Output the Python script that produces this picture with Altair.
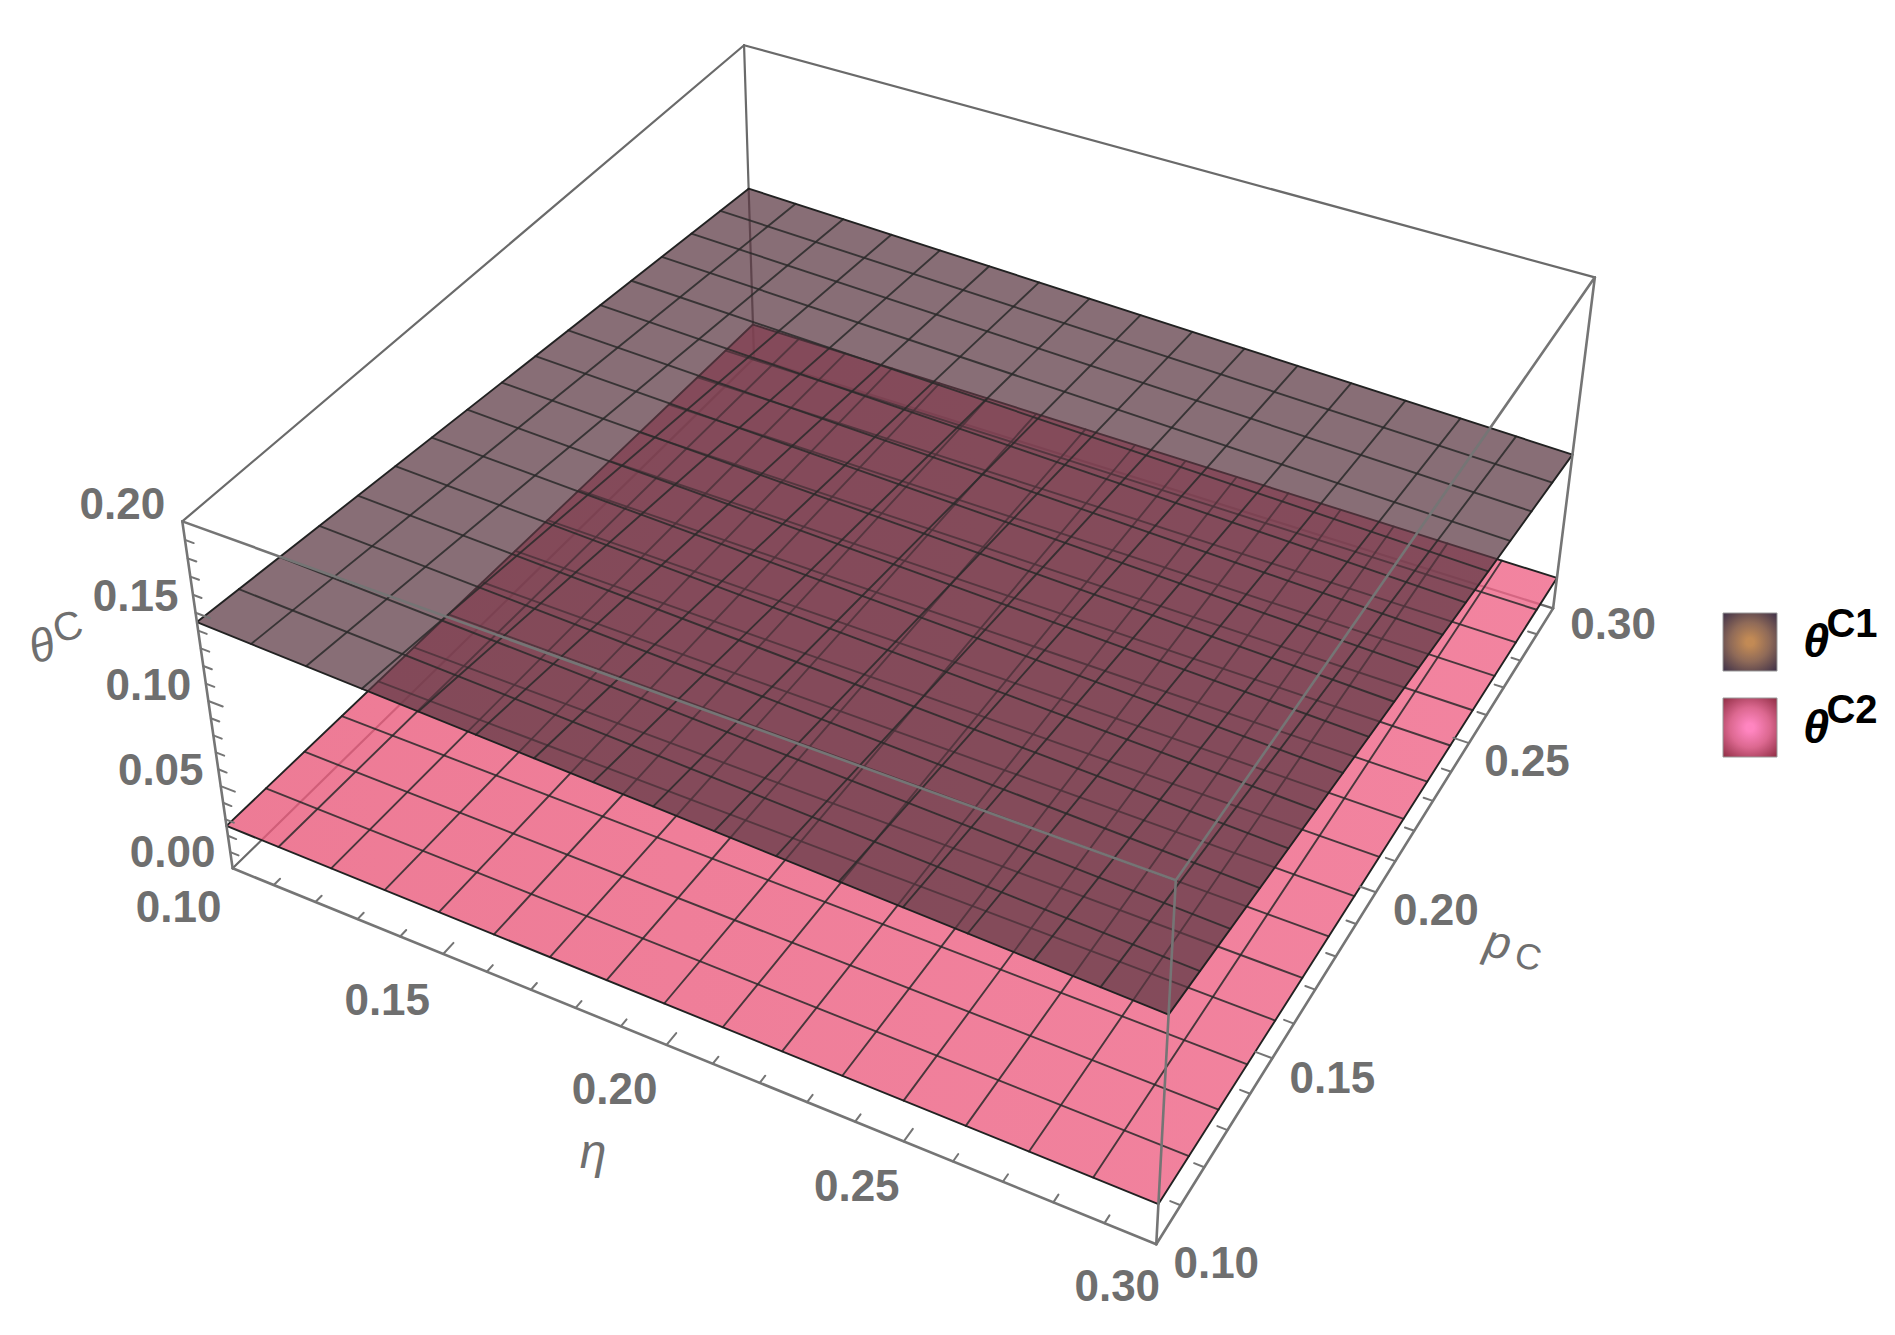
import numpy as np
import pandas as pd
import altair as alt

# ---- data ----
eta_range = [0.10, 0.30]
p_range = [0.10, 0.30]
theta_range = [0.00, 0.20]
# surface heights at corners: (eta lo/p lo, eta lo/p hi, eta hi/p lo, eta hi/p hi)
theta_c1 = [0.1448, 0.1112, 0.1298, 0.0961]
theta_c2 = [0.026, 0.0226, 0.0237, 0.0195]
mesh_values = [0.1125, 0.125, 0.1375, 0.15, 0.1625, 0.175, 0.1875, 0.20,
               0.2125, 0.225, 0.2375, 0.25, 0.2625, 0.275, 0.2875]
minor_eta = [0.11, 0.12, 0.13, 0.14, 0.16, 0.17, 0.18, 0.19, 0.21, 0.22, 0.23, 0.24, 0.26, 0.27, 0.28, 0.29]
major_eta = [0.10, 0.15, 0.20, 0.25, 0.30]
minor_theta = [0.01, 0.02, 0.03, 0.04, 0.06, 0.07, 0.08, 0.09, 0.11, 0.12, 0.13, 0.14, 0.16, 0.17, 0.18, 0.19]
major_theta = [0.00, 0.05, 0.10, 0.15, 0.20]
eta_labels = ["0.10", "0.15", "0.20", "0.25", "0.30"]
p_labels = ["0.10", "0.15", "0.20", "0.25", "0.30"]
theta_labels = ["0.00", "0.05", "0.10", "0.15", "0.20"]
legend_names = ["C1", "C2"]

# ---- view calibration: box corner (eta, p, theta) seen at picture pixel ----
cal_world = [(0, 0, 1), (0, 1, 1), (1, 1, 1), (1, 0, 1), (0, 0, 0), (1, 0, 0), (1, 1, 0)]
cal_image = [(182, 522), (744, 45), (1595, 278), (1176, 879), (233, 868), (1156, 1245), (1553, 608)]
A, b = [], []
for (u, v, w), (X, Y) in zip(cal_world, cal_image):
    A.append([u, v, w, 1, 0, 0, 0, 0, -X*u, -X*v, -X*w]); b.append(X)
    A.append([0, 0, 0, 0, u, v, w, 1, -Y*u, -Y*v, -Y*w]); b.append(Y)
sol = np.linalg.lstsq(np.array(A, float), np.array(b, float), rcond=None)[0]
P = np.append(sol, 1.0).reshape(3, 4)


def proj(eta, p, theta):
    u = (eta - eta_range[0]) / (eta_range[1] - eta_range[0])
    v = (p - p_range[0]) / (p_range[1] - p_range[0])
    w = (theta - theta_range[0]) / (theta_range[1] - theta_range[0])
    h = P @ np.array([u, v, w, 1.0])
    return float(h[0] / h[2]), float(h[1] / h[2])


def height(corners, eta, p):
    u = (eta - eta_range[0]) / (eta_range[1] - eta_range[0])
    v = (p - p_range[0]) / (p_range[1] - p_range[0])
    return ((1-u)*(1-v)*corners[0] + (1-u)*v*corners[1] + u*(1-v)*corners[2] + u*v*corners[3])


def seg(a, b):
    x, y = proj(*a); x2, y2 = proj(*b)
    return dict(x=x, y=y, x2=x2, y2=y2)


E0, E1 = eta_range; P0, P1 = p_range; T0, T1 = theta_range
XS = alt.Scale(domain=[8, 1887], nice=False, zero=False)
YS = alt.Scale(domain=[1327, 8], nice=False, zero=False)
ex = alt.X("x:Q", scale=XS, axis=None)
ey = alt.Y("y:Q", scale=YS, axis=None)


def rules(rows, color, width, opacity=1.0):
    return alt.Chart(pd.DataFrame(rows)).mark_rule(color=color, strokeWidth=width, opacity=opacity, strokeCap="round").encode(
        x=ex, y=ey, x2="x2:Q", y2="y2:Q")


def surface(corners, fill, opacity):
    l = proj(E0, P0, corners[0]); b_ = proj(E0, P1, corners[1]); f = proj(E1, P0, corners[2]); r = proj(E1, P1, corners[3])
    xs = sorted([l[0], b_[0], f[0], r[0]])
    low = np.interp(xs, [l[0], f[0], r[0]], [l[1], f[1], r[1]])
    up = np.interp(xs, [l[0], b_[0], r[0]], [l[1], b_[1], r[1]])
    df = pd.DataFrame(dict(x=xs, y=low, y2=up))
    return alt.Chart(df).mark_area(fill=fill, opacity=opacity, interpolate="linear").encode(x=ex, y=ey, y2="y2:Q")


def mesh(corners):
    rows = []
    for m in mesh_values:
        rows.append(seg((m, P0, height(corners, m, P0)), (m, P1, height(corners, m, P1))))
        rows.append(seg((E0, m, height(corners, E0, m)), (E1, m, height(corners, E1, m))))
    return rows


def border(corners):
    c = [(E0, P0, corners[0]), (E1, P0, corners[2]), (E1, P1, corners[3]), (E0, P1, corners[1])]
    return [seg(c[i], c[(i+1) % 4]) for i in range(4)]


box_back = [seg((E0, P0, T0), (E0, P1, T0)), seg((E0, P1, T0), (E1, P1, T0)), seg((E0, P1, T0), (E0, P1, T1)),
            seg((E0, P0, T1), (E0, P1, T1)), seg((E0, P1, T1), (E1, P1, T1))]
box_front = [seg((E0, P0, T1), (E1, P0, T1)), seg((E1, P0, T1), (E1, P1, T1)), seg((E1, P0, T0), (E1, P0, T1)),
             seg((E0, P0, T0), (E0, P0, T1)), seg((E1, P1, T0), (E1, P1, T1)),
             seg((E0, P0, T0), (E1, P0, T0)), seg((E1, P0, T0), (E1, P1, T0))]

ML, MJ = 0.0020, 0.0034
ticks = []
for t in minor_eta:
    ticks.append(seg((t, P0, T0), (t, P0 + ML, T0)))
    ticks.append(seg((E1, t, T0), (E1 - ML, t, T0)))
for t in major_eta[1:-1]:
    ticks.append(seg((t, P0, T0), (t, P0 + MJ, T0)))
    ticks.append(seg((E1, t, T0), (E1 - MJ, t, T0)))
for t in minor_theta:
    ticks.append(seg((E0, P0, t), (E0 + ML, P0, t)))
for t in major_theta[1:-1]:
    ticks.append(seg((E0, P0, t), (E0 + MJ, P0, t)))

BOLD = dict(font="Liberation Sans", fontWeight="bold", fontSize=44, color="#6f6f6f", align="center", baseline="middle")


def labels(texts, anchors, dx, dy):
    rows = [dict(x=proj(*a)[0] + dx[i], y=proj(*a)[1] + dy[i], t=texts[i]) for i, a in enumerate(anchors)]
    return alt.Chart(pd.DataFrame(rows)).mark_text(**BOLD).encode(x=ex, y=ey, text="t:N")


def free_text(text, x, y, **kw):
    return alt.Chart(pd.DataFrame([dict(x=x, y=y, t=text)])).mark_text(align="center", baseline="middle", **kw).encode(x=ex, y=ey, text="t:N")


tick_vals = [0.10, 0.15, 0.20, 0.25, 0.30]
eta_text = labels(eta_labels, [(t, P0, T0) for t in tick_vals], [-54, -56, -52, -47, -39], [41, 48, 46, 47, 44])
p_text = labels(p_labels, [(E1, t, T0) for t in tick_vals], [60, 60, 60, 58, 60], [21, 22, 20, 20, 18])
th_text = labels(theta_labels, [(E0, P0, t) for t in major_theta], [-60, -60, -60, -60, -60], [-14, -14, -14, -15, -15])

GRAY = "#6f6f6f"
titles = [
    free_text("θ", 42, 647, font="Liberation Sans", fontStyle="italic", fontSize=46, color=GRAY, angle=343),
    free_text("C", 68, 628, font="Liberation Sans", fontSize=40, color=GRAY, angle=343),
    free_text("η", 593, 1154, font="Liberation Sans", fontStyle="italic", fontSize=48, color=GRAY),
    free_text("p", 1498, 944, font="Liberation Sans", fontStyle="italic", fontSize=46, color=GRAY, angle=12),
    free_text("C", 1528, 958, font="Liberation Sans", fontSize=36, color=GRAY, angle=12),
]

# legend
swatches = []
for (y0, y1, c0, cm, c1) in [(613, 671, "#c28a55", "#8f6a58", "#3e3048"), (698, 757, "#ff85c0", "#dc6890", "#8e2c42")]:
    grad = alt.RadialGradient(gradient="radial", r2=0.68,
                              stops=[alt.GradientStop(color=c0, offset=0.1), alt.GradientStop(color=cm, offset=0.5),
                                     alt.GradientStop(color=c1, offset=1)])
    swatches.append(alt.Chart(pd.DataFrame([dict(x=1723, x2=1777, y=y0, y2=y1)])).mark_rect(fill=grad, stroke="#9a9a9a", strokeWidth=1).encode(
        x=ex, x2="x2:Q", y=ey, y2="y2:Q"))
leg = []
for name, ybase in zip(legend_names, [643, 729]):
    leg.append(free_text("θ", 1816, ybase, font="Liberation Sans", fontStyle="italic", fontWeight="bold", fontSize=47, color="#000000"))
    leg.append(free_text(name, 1852, ybase - 18, font="Liberation Sans", fontWeight="bold", fontSize=40, color="#000000"))

pink_fill = alt.LinearGradient(gradient="linear", x1=0, y1=0, x2=1, y2=0,
                               stops=[alt.GradientStop(color="#e95a7b", offset=0), alt.GradientStop(color="#ef6588", offset=1)])
LINE = "#2a2a2a"
layers = [
    rules(box_back, "#6a6a6a", 2.2),
    surface(theta_c2, pink_fill, 0.8),
    rules(mesh(theta_c2), LINE, 1.9, 0.85),
    rules(border(theta_c2), "#222222", 1.9),
    surface(theta_c1, "#5a3641", 0.72),
    rules(mesh(theta_c1), LINE, 1.9, 0.85),
    rules(border(theta_c1), "#222222", 1.9),
    rules(box_front, "#757575", 2.6),
    rules(ticks, "#757575", 2.0),
    eta_text, p_text, th_text, *titles, *swatches, *leg,
]
chart = alt.layer(*layers).properties(
    width=1879, height=1319, padding=0, autosize=alt.AutoSizeParams(type="none"), background="white"
).configure_view(stroke=None)
chart.save("out.html", embed_options={"renderer": "svg", "actions": False})
